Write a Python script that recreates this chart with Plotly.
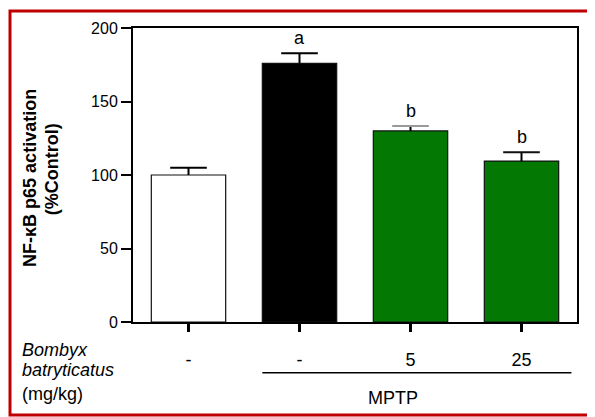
import plotly.graph_objects as go

# ---- data ----
groups = ["Control", "MPTP", "MPTP+BB5", "MPTP+BB25"]
means = [100, 176, 130, 109.5]
sems = [5, 6.8, 3.4, 6]
bar_colors = ["#ffffff", "#000000", "#037803", "#037803"]
cap_colors = ["#000000", "#000000", "#999999", "#111111"]
dose_labels = ["-", "-", "5", "25"]
sig_letters = ["", "a", "b", "b"]
y_ticks = [0, 50, 100, 150, 200]

FONT = "Arial, Liberation Sans, sans-serif"
CAP_HALF = 0.165  # cap half-width in category units
xpos = list(range(len(groups)))

fig = go.Figure()
for i in xpos:
    fig.add_trace(go.Bar(
        x=[xpos[i]], y=[means[i]], width=0.67,
        marker=dict(color=bar_colors[i], line=dict(color="#111111", width=1.2)),
        showlegend=False, hoverinfo="skip"))

# error bars (upper only): stem + cap, derived from means/sems
for i in xpos:
    top = means[i] + sems[i]
    fig.add_trace(go.Scatter(x=[xpos[i], xpos[i]], y=[means[i], top], mode="lines",
                             line=dict(color="#000000", width=2),
                             showlegend=False, hoverinfo="skip"))
    fig.add_trace(go.Scatter(x=[xpos[i] - CAP_HALF, xpos[i] + CAP_HALF], y=[top, top],
                             mode="lines", line=dict(color=cap_colors[i], width=2),
                             showlegend=False, hoverinfo="skip"))

for i in xpos:
    if sig_letters[i]:
        fig.add_annotation(x=xpos[i], y=means[i] + sems[i], xref="x", yref="y",
                           text=sig_letters[i], showarrow=False, yanchor="bottom",
                           yshift=3, font=dict(family=FONT, size=18, color="#000"))

fig.update_layout(
    width=587, height=409,
    margin=dict(l=125, r=18, t=20, b=95),
    paper_bgcolor="white", plot_bgcolor="white",
    barmode="overlay",
    font=dict(family=FONT, color="#000"),
    xaxis=dict(range=[-0.5, 3.5], tickvals=xpos, ticktext=dose_labels,
               ticks="outside", ticklen=8, tickwidth=2.5, tickcolor="#000",
               showline=True, linewidth=2, linecolor="#000", mirror=True,
               showgrid=False, zeroline=False, ticklabelstandoff=12,
               tickfont=dict(family=FONT, size=18, color="#000")),
    yaxis=dict(range=[0, 200], tickvals=y_ticks,
               ticks="outside", ticklen=10, tickwidth=2, tickcolor="#000",
               showline=True, linewidth=2, linecolor="#000", mirror=True,
               showgrid=False, zeroline=False,
               tickfont=dict(family=FONT, size=16, color="#000")),
)

# y title (two lines)
fig.add_annotation(x=-0.232, y=0.49, xref="paper", yref="paper", textangle=-90,
                   text="<b>NF-κB p65 activation</b>", showarrow=False,
                   xanchor="center", yanchor="middle",
                   font=dict(family=FONT, size=18, color="#000"))
fig.add_annotation(x=-0.182, y=0.52, xref="paper", yref="paper", textangle=-90,
                   text="<b>(%Control)</b>", showarrow=False,
                   xanchor="center", yanchor="middle",
                   font=dict(family=FONT, size=18, color="#000"))

# row labels
for txt, yy in [("<i>Bombyx</i>", -0.095), ("<i>batryticatus</i>", -0.163), ("(mg/kg)", -0.245)]:
    fig.add_annotation(x=-0.2545, y=yy, xref="paper", yref="paper", text=txt,
                       showarrow=False, xanchor="left", yanchor="middle",
                       font=dict(family=FONT, size=18, color="#000"))

# MPTP line and label
fig.add_shape(type="line", xref="x", yref="paper", x0=0.665, x1=3.45,
              y0=-0.173, y1=-0.173, line=dict(color="#000", width=1.5))
fig.add_annotation(x=1.84, y=-0.259, xref="x", yref="paper", text="MPTP",
                   showarrow=False, xanchor="center", yanchor="middle",
                   font=dict(family=FONT, size=18, color="#000"))

# red frame
fig.add_shape(type="rect", xref="paper", yref="paper", x0=-0.277, x1=1.036,
              y0=-0.316, y1=1.058, line=dict(color="#c00000", width=3))

fig.write_html("out.html")
